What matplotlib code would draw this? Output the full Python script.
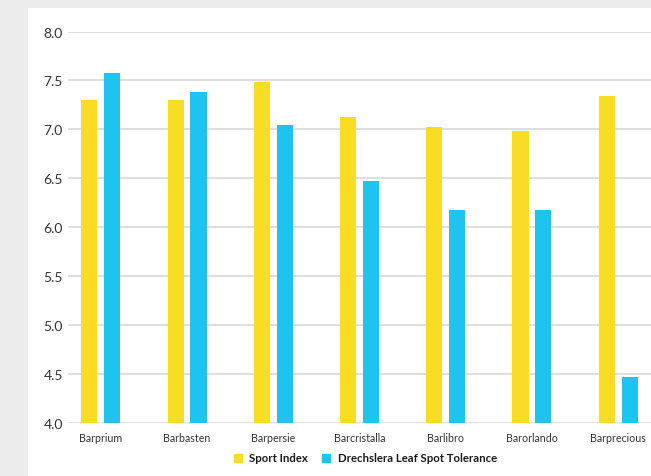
import matplotlib
matplotlib.use("Agg")
import matplotlib.pyplot as plt
import numpy as np
from matplotlib.patches import Rectangle
from matplotlib.lines import Line2D

categories = ["Barprium", "Barbasten", "Barpersie", "Barcristalla", "Barlibro", "Barorlando", "Barprecious"]
sport_index = [7.30, 7.30, 7.48, 7.13, 7.02, 6.98, 7.34]
drechslera = [7.58, 7.38, 7.04, 6.47, 6.17, 6.17, 4.47]
series_names = ["Sport Index", "Drechslera Leaf Spot Tolerance"]
yticks = [4.0, 4.5, 5.0, 5.5, 6.0, 6.5, 7.0, 7.5, 8.0]

YELLOW = "#F9DC24"
BLUE = "#1FC3F0"
plt.rcParams['font.family'] = ['Lato', 'DejaVu Sans']

fig = plt.figure(figsize=(6.51, 4.77), dpi=100)
fig.patch.set_facecolor("#ececec")
fig.patches.append(Rectangle((28/651, 0), 1, 1 - 9/477, transform=fig.transFigure,
                             facecolor="white", edgecolor="none", zorder=-10))

ax = fig.add_axes([68/651, 1 - 423.7/477, 1 - 68/651, (423.7 - 32.5)/477])
ax.set_facecolor("none")
x = np.arange(len(categories))
w = 0.186
off = 0.133
ax.bar(x - off, sport_index, width=w, color=YELLOW, zorder=3)
ax.bar(x + off, drechslera, width=w, color=BLUE, zorder=3)
ax.set_ylim(4.0, 8.0)
ax.set_xlim(-0.38, 6.38)
ax.set_yticks(yticks)
ax.set_yticklabels([f"{v:.1f}" for v in yticks], fontsize=10, color="#333333")
ax.set_xticks(x)
ax.set_xticklabels(categories, fontsize=7.7, color="#333333")
ax.tick_params(axis="y", length=0, pad=3.6)
ax.tick_params(axis="x", length=0, pad=7)
ax.grid(axis="y", color="#d4d4d4", linewidth=1.1, zorder=1)
for s in ax.spines.values():
    s.set_visible(False)

handles = [Line2D([], [], marker="s", linestyle="none", markersize=6, color=YELLOW),
           Line2D([], [], marker="s", linestyle="none", markersize=6, color=BLUE)]
leg = fig.legend(handles, series_names, loc="center", bbox_to_anchor=(365/651, 1 - 459/477),
                 ncol=2, frameon=False, handlelength=0.8, handletextpad=0.6,
                 columnspacing=1.2, prop={"size": 8.2, "weight": "bold"})
for t in leg.get_texts():
    t.set_color("#1a1a1a")

fig.savefig("out.png", dpi=100, facecolor=fig.get_facecolor())
